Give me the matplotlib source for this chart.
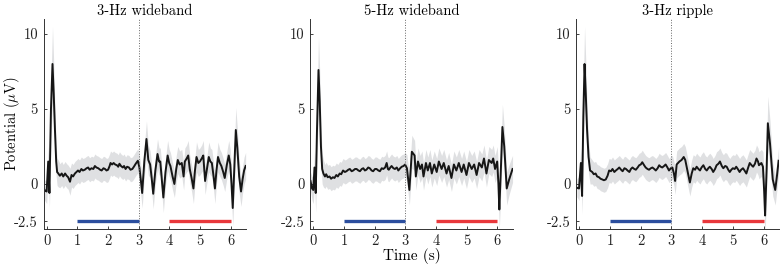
import numpy as np
import matplotlib
matplotlib.use("Agg")
import matplotlib.pyplot as plt

plt.rcParams["font.family"] = ["cmr10", "DejaVu Serif"]
plt.rcParams["mathtext.fontset"] = "cm"
plt.rcParams["axes.unicode_minus"] = False
plt.rcParams["axes.formatter.use_mathtext"] = True

titles = ["3-Hz wideband", "5-Hz wideband", "3-Hz ripple"]
xticks = [0, 1, 2, 3, 4, 5, 6]
yticks = [-2.5, 0, 5, 10]
ytick_labels = ["-2.5", "0", "5", "10"]
stim_onset = 3
blue_bar = (1, 3)
red_bar = (4, 6)
bar_level = -2.5

# panel 1: time (s), mean potential (uV), shaded half-width (uV)
t1 = [-0.10, -0.05, 0.00, 0.05, 0.09, 0.14, 0.19, 0.23, 0.27, 0.31, 0.34, 0.38, 0.43, 0.49, 0.54,
      0.60, 0.65, 0.70, 0.76, 0.81, 0.86, 0.92, 0.97, 1.02, 1.07, 1.13, 1.18, 1.24, 1.30, 1.35,
      1.40, 1.46, 1.52, 1.57, 1.62, 1.68, 1.74, 1.79, 1.85, 1.90, 1.95, 2.00, 2.05, 2.08, 2.13,
      2.18, 2.23, 2.29, 2.33, 2.37, 2.42, 2.48, 2.52, 2.57, 2.62, 2.68, 2.73, 2.79, 2.84, 2.90,
      2.97, 3.02, 3.07, 3.11, 3.18, 3.25, 3.31, 3.37, 3.42, 3.47, 3.54, 3.61, 3.66, 3.70, 3.75,
      3.80, 3.87, 3.94, 3.99, 4.03, 4.10, 4.16, 4.22, 4.27, 4.33, 4.40, 4.46, 4.50, 4.56, 4.61,
      4.66, 4.72, 4.78, 4.83, 4.88, 4.94, 4.99, 5.05, 5.10, 5.16, 5.22, 5.28, 5.33, 5.38, 5.43,
      5.48, 5.53, 5.58, 5.64, 5.69, 5.75, 5.80, 5.87, 5.93, 5.98, 6.02, 6.06, 6.11, 6.16, 6.21,
      6.27, 6.33, 6.38, 6.43, 6.48]
m1 = [-0.30, -0.45, -0.50, 1.50, -0.60, 5.00, 8.00, 6.00, 3.60, 1.50, 0.80, 0.70, 0.55, 0.70, 0.50,
      0.70, 0.55, 0.45, 0.15, 0.60, 0.50, 0.70, 0.80, 0.90, 0.80, 1.00, 0.90, 0.95, 1.05, 1.10,
      0.95, 1.05, 1.00, 1.20, 1.10, 1.05, 0.95, 0.90, 1.05, 1.00, 0.90, 0.95, 1.20, 1.40, 1.30,
      1.40, 1.30, 1.25, 1.15, 1.35, 1.20, 1.10, 1.20, 1.00, 1.15, 1.10, 0.95, 1.00, 1.15, 1.35,
      1.55, 1.10, 0.20, -0.60, 1.50, 3.00, 1.60, 1.30, 0.40, -0.65, 0.90, 2.00, 1.50, 1.50, 0.30,
      -0.90, 0.80, 1.90, 1.40, 1.20, 0.50, 0.00, 1.00, 1.60, 1.30, 1.40, 0.50, 1.50, 1.70, 1.90,
      1.00, 0.40, -0.30, 0.90, 1.80, 1.40, 1.50, 1.70, 1.90, 0.20, 1.00, 1.80, 1.50, 1.40, 0.60,
      -0.30, 0.90, 1.80, 1.40, 1.20, 0.80, 0.40, 1.30, 1.90, 1.30, 0.00, -1.60, 1.00, 3.60, 2.40,
      0.50, -0.50, 0.30, 0.90, 1.20]
s1 = [0.6, 0.7, 0.8, 1.0, 1.0, 2.0, 2.5, 2.0, 1.4, 1.0, 0.9, 0.9, 0.8, 0.8, 0.8,
      0.8, 0.8, 0.8, 0.9, 0.8, 0.8, 0.8, 0.8, 0.8, 0.8, 0.8, 0.8, 0.8, 0.8, 0.8,
      0.8, 0.8, 0.8, 0.8, 0.8, 0.8, 0.8, 0.8, 0.8, 0.8, 0.8, 0.8, 0.8, 0.8, 0.8,
      0.8, 0.8, 0.8, 0.8, 0.8, 0.8, 0.8, 0.8, 0.8, 0.8, 0.8, 0.8, 0.8, 0.8, 0.8,
      0.8, 0.8, 1.0, 1.0, 1.0, 1.2, 1.0, 0.9, 0.9, 1.0, 0.9, 1.0, 0.9, 0.9, 0.9,
      1.0, 0.9, 1.0, 0.9, 0.9, 0.9, 0.9, 0.9, 0.9, 0.9, 0.9, 0.9, 0.9, 0.9, 1.0,
      0.9, 0.9, 1.0, 0.9, 1.0, 0.9, 0.9, 0.9, 1.0, 0.9, 0.9, 1.0, 0.9, 0.9, 0.9,
      1.0, 0.9, 1.0, 0.9, 0.9, 0.9, 0.9, 0.9, 1.0, 1.0, 1.1, 1.2, 1.3, 1.5, 1.3,
      1.1, 1.0, 0.9, 0.9, 0.9]

# panel 2
t2 = [-0.09, -0.04, 0.00, 0.04, 0.08, 0.12, 0.17, 0.21, 0.25, 0.29, 0.33, 0.38, 0.42, 0.47, 0.53,
      0.58, 0.64, 0.69, 0.75, 0.80, 0.86, 0.91, 0.97, 1.03, 1.08, 1.14, 1.19, 1.25, 1.30, 1.36,
      1.41, 1.47, 1.52, 1.58, 1.63, 1.68, 1.73, 1.79, 1.84, 1.90, 1.95, 2.01, 2.06, 2.12, 2.17,
      2.23, 2.28, 2.34, 2.39, 2.43, 2.46, 2.51, 2.55, 2.61, 2.66, 2.72, 2.77, 2.83, 2.88, 2.94,
      2.99, 3.05, 3.13, 3.21, 3.30, 3.34, 3.41, 3.48, 3.54, 3.59, 3.67, 3.73, 3.80, 3.86, 3.94,
      4.02, 4.09, 4.18, 4.25, 4.34, 4.41, 4.50, 4.58, 4.66, 4.74, 4.83, 4.90, 4.99, 5.07, 5.16,
      5.24, 5.32, 5.40, 5.49, 5.56, 5.64, 5.72, 5.81, 5.86, 5.92, 5.99, 6.03, 6.06, 6.11, 6.16,
      6.22, 6.30, 6.38, 6.49]
m2 = [0.20, -0.30, -0.40, 1.10, -0.60, 3.50, 7.60, 5.50, 2.50, 1.00, 0.70, 0.50, 0.65, 0.45, 0.50,
      0.35, 0.45, 0.40, 0.60, 0.50, 0.70, 0.65, 0.90, 0.80, 0.85, 0.95, 1.00, 0.85, 0.90, 1.00,
      1.00, 0.90, 0.85, 1.00, 1.05, 0.90, 0.95, 1.10, 1.05, 0.90, 0.85, 1.00, 1.00, 0.90, 0.85,
      1.05, 1.00, 1.10, 1.40, 1.00, 0.95, 1.10, 1.20, 1.05, 1.00, 1.10, 0.90, 1.05, 1.15, 1.20,
      1.30, 1.05, -0.40, 2.15, 1.90, 0.50, 1.50, 1.00, 1.30, 0.50, 1.40, 0.90, 1.40, 0.70, 1.30,
      0.80, 1.50, 1.00, 1.40, 0.70, 1.20, 0.40, 1.30, 0.90, 1.40, 0.80, 1.30, 0.60, 1.40, 1.00,
      1.30, 0.60, 1.40, 1.10, 1.70, 0.70, 1.60, 1.40, 1.70, 1.00, 1.50, 0.00, -1.70, 1.00, 3.80,
      2.50, -0.30, 0.30, 1.00]
s2 = [0.6, 0.8, 0.9, 1.1, 1.3, 1.8, 2.2, 2.0, 1.4, 1.0, 0.9, 0.8, 0.8, 0.8, 0.8,
      0.8, 0.8, 0.8, 0.8, 0.8, 0.8, 0.8, 0.8, 0.8, 0.8, 0.8, 0.8, 0.8, 0.8, 0.8,
      0.8, 0.8, 0.8, 0.8, 0.8, 0.8, 0.8, 0.8, 0.8, 0.8, 0.8, 0.8, 0.8, 0.8, 0.8,
      0.8, 0.8, 0.8, 0.8, 0.8, 0.8, 0.8, 0.8, 0.8, 0.8, 0.8, 0.8, 0.8, 0.8, 0.8,
      0.8, 0.9, 1.0, 1.1, 1.0, 0.9, 0.9, 0.9, 0.9, 0.9, 0.9, 0.9, 0.9, 0.9, 0.9,
      0.9, 0.9, 0.9, 0.9, 0.9, 0.9, 0.9, 0.9, 0.9, 0.9, 0.9, 0.9, 0.9, 0.9, 0.9,
      0.9, 0.9, 0.9, 0.9, 0.9, 0.9, 0.9, 0.9, 0.9, 0.9, 1.0, 1.2, 1.3, 1.4, 1.5,
      1.3, 1.1, 1.0, 0.9]

# panel 3
t3 = [-0.08, -0.01, 0.05, 0.09, 0.13, 0.17, 0.21, 0.25, 0.30, 0.35, 0.42, 0.47, 0.53, 0.58, 0.64,
      0.69, 0.75, 0.80, 0.86, 0.92, 0.97, 1.03, 1.08, 1.14, 1.19, 1.25, 1.30, 1.36, 1.41, 1.47,
      1.52, 1.57, 1.63, 1.68, 1.73, 1.79, 1.84, 1.90, 1.95, 2.00, 2.05, 2.11, 2.16, 2.22, 2.27,
      2.33, 2.38, 2.44, 2.49, 2.55, 2.60, 2.65, 2.70, 2.76, 2.81, 2.87, 2.92, 2.98, 3.03, 3.08,
      3.12, 3.17, 3.26, 3.33, 3.40, 3.45, 3.55, 3.60, 3.66, 3.71, 3.77, 3.82, 3.88, 3.93, 3.98,
      4.04, 4.10, 4.15, 4.20, 4.25, 4.31, 4.36, 4.42, 4.47, 4.53, 4.58, 4.64, 4.69, 4.75, 4.80,
      4.85, 4.90, 4.95, 5.00, 5.06, 5.11, 5.16, 5.22, 5.27, 5.33, 5.38, 5.44, 5.50, 5.55, 5.61,
      5.66, 5.72, 5.77, 5.82, 5.85, 5.90, 5.93, 5.98, 6.02, 6.05, 6.10, 6.14, 6.21, 6.30, 6.38,
      6.44, 6.49]
m3 = [-0.25, -0.30, 1.40, -0.80, 4.50, 8.00, 6.00, 3.70, 1.80, 0.90, 0.80, 0.65, 0.70, 0.50, 0.45,
      0.35, 0.30, 0.25, 0.30, 0.55, 0.90, 0.85, 1.00, 0.80, 0.90, 1.00, 1.10, 0.95, 0.85, 1.05,
      1.00, 0.90, 0.80, 1.00, 1.10, 1.00, 0.95, 1.10, 1.25, 1.30, 1.45, 1.25, 1.10, 1.00, 0.95,
      1.05, 1.10, 1.00, 0.90, 1.05, 1.25, 1.15, 1.10, 1.20, 1.30, 1.10, 0.90, 1.05, 1.10, 0.70,
      0.20, 1.30, 1.50, 1.60, 1.80, 1.60, 0.60, 0.10, 0.70, 1.05, 0.95, 1.15, 1.00, 0.90, 1.10,
      1.25, 1.00, 0.90, 1.05, 1.15, 1.00, 0.80, 1.00, 1.25, 1.35, 1.50, 1.20, 1.05, 1.20, 1.15,
      0.95, 0.80, 0.95, 1.05, 1.00, 1.15, 1.00, 0.80, 0.95, 1.05, 0.90, 0.70, 1.10, 1.40, 1.25,
      1.15, 1.35, 1.70, 1.50, 1.25, 1.35, 1.40, 1.15, -0.50, -2.10, 1.00, 4.05, 2.70, 0.30, -0.40,
      0.60, 1.55]
s3 = [0.6, 0.8, 1.0, 1.2, 2.0, 2.5, 2.2, 1.6, 1.1, 0.9, 0.8, 0.8, 0.8, 0.8, 0.8,
      0.8, 0.8, 0.8, 0.8, 0.8, 0.8, 0.8, 0.8, 0.8, 0.8, 0.8, 0.8, 0.8, 0.8, 0.8,
      0.8, 0.8, 0.8, 0.8, 0.8, 0.8, 0.8, 0.8, 0.8, 0.8, 0.8, 0.8, 0.8, 0.8, 0.8,
      0.8, 0.8, 0.8, 0.8, 0.8, 0.8, 0.8, 0.8, 0.8, 0.8, 0.8, 0.8, 0.8, 0.8, 0.8,
      0.9, 0.9, 0.9, 0.9, 0.9, 0.9, 0.9, 0.9, 0.9, 0.9, 0.9, 0.9, 0.9, 0.9, 0.9,
      0.9, 0.9, 0.9, 0.9, 0.9, 0.9, 0.9, 0.9, 0.9, 0.9, 0.9, 0.9, 0.9, 0.9, 0.9,
      0.9, 0.9, 0.9, 0.9, 0.9, 0.9, 0.9, 0.9, 0.9, 0.9, 0.9, 0.9, 0.9, 0.9, 0.9,
      0.9, 0.9, 0.9, 0.9, 0.9, 0.9, 0.9, 1.0, 1.2, 1.3, 1.5, 1.8, 1.5, 1.1, 1.0,
      0.9, 0.9]

panels = [(t1, m1, s1), (t2, m2, s2), (t3, m3, s3)]

fig = plt.figure(figsize=(7.8, 2.64), dpi=100)
lefts = [0.0559, 0.3977, 0.7388]
for i, (t, m, s) in enumerate(panels):
    ax = fig.add_axes([lefts[i], 0.1326, 0.2598, 0.7955])
    t = np.array(t)
    m = np.array(m)
    s = np.array(s)
    ax.fill_between(t, m - s, m + s, color="#dfe0e2", lw=0)
    ax.plot(t, m, color="#161616", lw=1.4)
    ax.axvline(stim_onset, color="#666666", lw=0.7, ls=":")
    ax.plot(blue_bar, [bar_level, bar_level], color="#2b4e9e", lw=2.4, solid_capstyle="butt")
    ax.plot(red_bar, [bar_level, bar_level], color="#e8373b", lw=2.4, solid_capstyle="butt")
    ax.set_xlim(-0.1, 6.5)
    ax.set_ylim(-3, 11)
    ax.set_xticks(xticks)
    ax.set_xticklabels([str(x) for x in xticks])
    ax.set_yticks(yticks)
    ax.set_yticklabels(ytick_labels)
    ax.tick_params(direction="in", length=2.5, width=0.6, labelsize=10.5, pad=4, colors="#222222")
    for side in ["top", "right"]:
        ax.spines[side].set_visible(False)
    for side in ["left", "bottom"]:
        ax.spines[side].set_linewidth(0.7)
        ax.spines[side].set_color("#333333")
    ax.set_title(titles[i], fontsize=10.5, pad=3)
    if i == 0:
        ax.set_ylabel(r"Potential ($\mu$V)", fontsize=10.5)
        ax.yaxis.set_label_coords(-0.105, 0.5)
    if i == 1:
        ax.set_xlabel("Time (s)", fontsize=11, labelpad=0)

fig.savefig("out.png", dpi=100)
